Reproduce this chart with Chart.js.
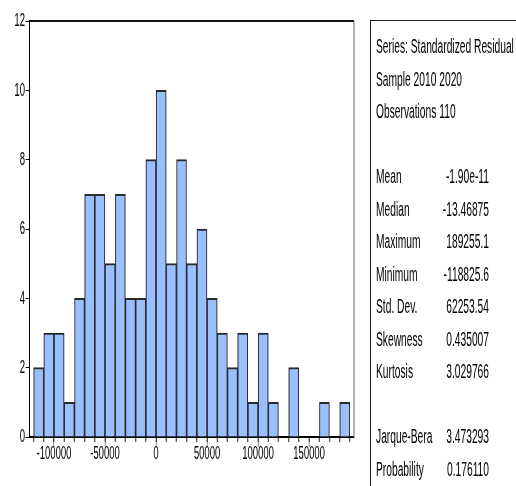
<!DOCTYPE html>
<html>
<head>
<meta charset="utf-8">
<script src="https://cdn.jsdelivr.net/npm/chart.js@4.4.1/dist/chart.umd.min.js"></script>
<style>
  html, body { margin: 0; padding: 0; background: #fff; }
  body { width: 516px; height: 486px; overflow: hidden; position: relative; }
  /* the picture is laid out twice as wide, then squeezed horizontally */
  #wide { position: absolute; left: 0; top: 0; width: 1032px; height: 486px;
          transform: scaleX(0.5); transform-origin: 0 0; }
  #plot { position: absolute; left: 0; top: 0; }
  #stats { position: absolute; left: 740px; top: 20px; width: 400px; height: 520px;
           border-left: 2px solid #222; border-top: 1px solid #222; box-sizing: border-box;
           font-family: "Liberation Sans", Arial, sans-serif; font-size: 20.5px; color: #000; }
  .row { position: absolute; left: 0; width: 236px; height: 24px; line-height: 24px; white-space: nowrap; }
  .lab { position: absolute; left: 10px; }
  .val { position: absolute; right: 0; text-align: right; }
</style>
</head>
<body>
<div id="wide">
  <canvas id="plot" width="720" height="486"></canvas>
  <div id="stats"></div>
</div>
<script>
// histogram bins (left edge of each bin, width 10000) and counts
const binStart = [-120000, -110000, -100000, -90000, -80000, -70000, -60000, -50000,
                  -40000, -30000, -20000, -10000, 0, 10000, 20000, 30000, 40000, 50000,
                  60000, 70000, 80000, 90000, 100000, 110000, 120000, 130000, 140000,
                  150000, 160000, 170000, 180000];
const counts = [2, 3, 3, 1, 4, 7, 7, 5, 7, 4, 4, 8, 10, 5, 8, 5, 6, 4, 3, 2, 3, 1, 3, 1, 0, 2, 0, 0, 1, 0, 1];
const binWidth = 10000;

const xMin = -124000;
const xMax = 194000;
const xLabelTicks = [-100000, -50000, 0, 50000, 100000, 150000];
const yTicks = [0, 2, 4, 6, 8, 10, 12];

const headerLines = ['Series: Standardized Residual', 'Sample 2010 2020', 'Observations 110'];
const statLabels = ['Mean', 'Median', 'Maximum', 'Minimum', 'Std. Dev.', 'Skewness', 'Kurtosis'];
const statValues = ['-1.90e-11', '-13.46875', '189255.1', '-118825.6', '62253.54', '0.435007', '3.029766'];
const testLabels = ['Jarque-Bera', 'Probability'];
const testValues = ['3.473293', '0.176110'];

// stats panel
const stats = document.getElementById('stats');
function addRow(slot, label, value) {
    const row = document.createElement('div');
    row.className = 'row';
    row.style.top = (45 + 32.5 * slot - 20 - 12) + 'px';
    const l = document.createElement('span');
    l.className = 'lab';
    l.textContent = label;
    row.appendChild(l);
    if (value !== undefined) {
        const v = document.createElement('span');
        v.className = 'val';
        v.textContent = value;
        row.appendChild(v);
    }
    stats.appendChild(row);
}
headerLines.forEach((t, i) => addRow(i, t));
statLabels.forEach((t, i) => addRow(4 + i, t, statValues[i]));
testLabels.forEach((t, i) => addRow(12 + i, t, testValues[i]));

const frame = {
    id: 'frame',
    afterDraw(chart) {
        const a = chart.chartArea;
        const ctx = chart.ctx;
        ctx.save();
        ctx.strokeStyle = '#111';
        ctx.lineWidth = 2;
        ctx.beginPath();
        ctx.moveTo(a.left, a.top);
        ctx.lineTo(a.right, a.top);
        ctx.stroke();
        ctx.strokeStyle = '#666';
        ctx.beginPath();
        ctx.moveTo(a.right, a.top);
        ctx.lineTo(a.right, a.bottom);
        ctx.stroke();
        ctx.restore();
    }
};

const tickFont = { family: '"Liberation Sans", Arial, sans-serif', size: 19 };
const binEdges = binStart.concat([binStart[binStart.length - 1] + binWidth]);

new Chart(document.getElementById('plot'), {
    type: 'bar',
    data: {
        datasets: [{
            data: binStart.map((s, i) => ({ x: s + binWidth / 2, y: counts[i] })),
            backgroundColor: '#99bfff',
            borderColor: '#2a2a2a',
            borderWidth: { top: 2, left: 2, right: 2, bottom: 0 },
            borderSkipped: 'bottom',
            barPercentage: 1,
            categoryPercentage: 1
        }]
    },
    options: {
        responsive: false,
        animation: false,
        events: [],
        layout: { padding: { top: 21, right: 12, left: 0, bottom: 0 } },
        plugins: { legend: { display: false }, tooltip: { enabled: false } },
        scales: {
            x: {
                type: 'linear',
                min: xMin,
                max: xMax,
                offset: false,
                afterBuildTicks: s => { s.ticks = xLabelTicks.map(v => ({ value: v })); },
                ticks: {
                    autoSkip: false,
                    maxRotation: 0,
                    color: '#000',
                    font: tickFont,
                    padding: -5,
                    callback: v => String(v)
                },
                grid: { drawOnChartArea: false, offset: false, tickLength: 10, tickColor: '#8a8a8a', tickWidth: 2 },
                border: { color: '#000', width: 2 },
                afterFit: s => { s.height = 49; }
            },
            xMinor: {
                type: 'linear',
                axis: 'x',
                position: { y: 0 },
                min: xMin,
                max: xMax,
                offset: false,
                afterBuildTicks: s => { s.ticks = binEdges.map(v => ({ value: v })); },
                ticks: { autoSkip: false, display: false },
                grid: { drawOnChartArea: false, offset: false, tickLength: 5, tickColor: '#222', tickWidth: 2 },
                border: { display: false }
            },
            y: {
                min: 0,
                max: yTicks[yTicks.length - 1],
                afterBuildTicks: s => { s.ticks = yTicks.map(v => ({ value: v })); },
                ticks: { color: '#000', font: tickFont, padding: 1 },
                grid: { drawOnChartArea: false, tickLength: 8, tickColor: '#000', tickWidth: 1 },
                border: { color: '#000', width: 2 },
                afterFit: s => { s.width = 59; }
            }
        }
    },
    plugins: [frame]
});
</script>
</body>
</html>
